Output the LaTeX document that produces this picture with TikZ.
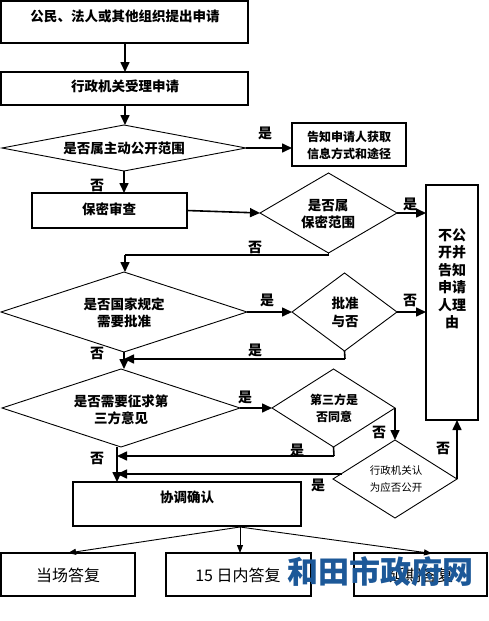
\documentclass[tikz,border=0pt]{standalone}
\usepackage{fontspec}
\setmainfont{Noto Sans CJK SC}
\usetikzlibrary{arrows.meta,shapes.geometric}
\definecolor{wmblue}{RGB}{28,88,152}
\tikzset{
  box/.style={draw, line width=1.6pt, inner sep=0pt, outer sep=0pt},
  dia/.style={draw, diamond, line width=0.9pt, inner sep=0pt, outer sep=0pt},
  lbl/.style={font=\fontsize{13.5}{16}\selectfont\bfseries, inner sep=0pt},
  sml/.style={font=\fontsize{12}{17}\selectfont\bfseries, inner sep=0pt, align=center},
  yn/.style={font=\fontsize{14}{14}\selectfont\bfseries, inner sep=0pt},
  arr/.style={line width=1.6pt, -{Triangle[length=10pt,width=9pt]}},
  ln/.style={line width=1.6pt},
  thin arr/.style={line width=0.9pt, -{Triangle[length=8pt,width=6pt]}}
}
\begin{document}
\begin{tikzpicture}[x=1pt,y=-1pt]
\useasboundingbox (0,0) rectangle (489,621);
% boxes
\node[box, minimum width=247pt, minimum height=42pt] (b1) at (124.5,22) {};
\node[lbl] (b1t) at (125,16) {公民、法人或其他组织提出申请};
\node[box, minimum width=247pt, minimum height=33pt] (b2) at (124.5,88.5) {};
\node[lbl] (b2t) at (125,86) {行政机关受理申请};
\node[dia, minimum width=244pt, minimum height=46pt] (d1) at (124,148) {};
\node[lbl] (d1t) at (124,148) {是否属主动公开范围};
\node[box, minimum width=114pt, minimum height=43pt] (y1) at (349,144.5) {};
\node[sml] (y1t) at (349,145) {告知申请人获取\\信息方式和途径};
\node[box, minimum width=155pt, minimum height=35pt] (b3) at (109.5,210.5) {};
\node[lbl] (b3t) at (109,209) {保密审查};
\node[dia, minimum width=137pt, minimum height=80pt] (d2) at (328.5,213) {};
\node[lbl, align=center, font=\fontsize{13.5}{17}\selectfont\bfseries] (d2t) at (328,214) {是否属\\保密范围};
\node[box, minimum width=52pt, minimum height=235pt] (b4) at (452,302.5) {};
\node[lbl, align=center, font=\fontsize{14}{17.5}\selectfont\bfseries] (b4t) at (452,279) {不公\\开并\\告知\\申请\\人理\\由};
\node[dia, minimum width=246pt, minimum height=80pt] (d3) at (124,312) {};
\node[lbl, align=center, font=\fontsize{13.5}{17}\selectfont\bfseries] (d3t) at (124,313) {是否国家规定\\需要批准};
\node[dia, minimum width=105pt, minimum height=78pt] (d4) at (344.5,312) {};
\node[lbl, align=center, font=\fontsize{13.5}{18}\selectfont\bfseries] (d4t) at (345,312) {批准\\与否};
\node[dia, minimum width=238pt, minimum height=78pt] (d5) at (121,408) {};
\node[lbl, align=center, font=\fontsize{13.5}{17}\selectfont\bfseries] (d5t) at (121,410) {是否需要征求第\\三方意见};
\node[dia, minimum width=123pt, minimum height=78pt] (d6) at (333.5,408) {};
\node[sml] (d6t) at (334,408) {第三方是\\否同意};
\node[dia, minimum width=124pt, minimum height=78pt] (d7) at (395,479) {};
\node[inner sep=0pt, align=center, font=\fontsize{10.5}{17}\selectfont] (d7t) at (396,479) {行政机关认\\为应否公开};
\node[box, minimum width=228pt, minimum height=44pt] (b5) at (187,504) {};
\node[lbl] (b5t) at (187,497) {协调确认};
\node[box, minimum width=134pt, minimum height=43pt] (ba) at (68,574.5) {};
\node[inner sep=0pt, font=\fontsize{16}{16}\selectfont] (bat) at (68,575) {当场答复};
\node[box, minimum width=145pt, minimum height=43pt] (bb) at (238.5,574.5) {};
\node[inner sep=0pt, font=\fontsize{16}{16}\selectfont] (bbt) at (238,575) {15 日内答复};
\node[box, minimum width=133pt, minimum height=43pt] (bc) at (420.5,574.5) {};
\node[inner sep=0pt, font=\fontsize{16}{16}\selectfont] (bct) at (421,575) {延期答复};
% coordinates
\coordinate (c2) at (125,255);
\coordinate (c4) at (345,359);
\coordinate (c6) at (334,456);
\coordinate (c7) at (342,474);
\coordinate (c5) at (117,447);
\coordinate (cb) at (240,527);
% connectors
\draw[arr] (b1.south -| b1t) -- (b2.north -| b1t);
\draw[arr] (b2.south -| b1t) -- (d1.north -| b1t);
\draw[arr] (d1.east) -- (y1.west |- d1.east);
\draw[arr] (d1.south) -- (b3.north -| d1.south);
\draw[arr] (b3.east) -- (d2.west);
\draw[arr] (d2.east) -- (b4.west |- d2.east);
\draw[ln] (d2.south) -- (d2.south |- c2) -- (c2);
\draw[arr] (c2) -- (d3.north -| c2);
\draw[arr] (d3.east) -- (d4.west);
\draw[arr] (d4.east) -- (b4.west |- d4.east);
\draw[ln] (d4.south) -- (c4);
\draw[arr] (c4) -- (c4 -| d3.south);
\draw[arr] (d3.south) -- (d3.south |- d5.north);
\draw[arr] (d5.east) -- (d6.west);
\draw[arr] (d6.east) -- (d6.east |- d7.north);
\draw[ln] (d6.south) -- (c6);
\draw[arr] (c6) -- (c6 -| c5);
\draw[arr] (c5) -- (c5 |- b5.north);
\draw[arr] (c7) -- (c7 -| c5);
\draw[arr] (d7.east) -- (d7.east |- b4.south);
\draw[thin arr] (cb) -- (ba.north);
\draw[thin arr] (cb) -- (cb |- bb.north);
\draw[thin arr] (cb) -- (432,553.5);
% yes / no labels
\node[yn] (l1) at (265,133) {是};
\node[yn] (l2) at (97,185) {否};
\node[yn] (l3) at (410,204) {是};
\node[yn] (l4) at (255,247) {否};
\node[yn] (l5) at (267,300) {是};
\node[yn] (l6) at (410,300) {否};
\node[yn] (l7) at (255,350) {是};
\node[yn] (l8) at (97,353) {否};
\node[yn] (l9) at (245,397) {是};
\node[yn] (l10) at (379,432) {否};
\node[yn] (l11) at (297,450) {是};
\node[yn] (l12) at (97,458) {否};
\node[yn] (l13) at (318,485) {是};
\node[yn] (l14) at (443,448) {否};
% watermark
\node[inner sep=0pt, text=wmblue, font=\fontsize{31}{31}\selectfont\bfseries] (wm) at (380,572) {和田市政府网};
\end{tikzpicture}
\end{document}
